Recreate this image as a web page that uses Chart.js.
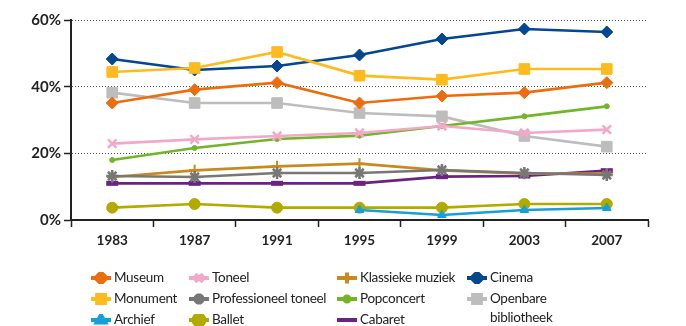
<!DOCTYPE html>
<html>
<head>
<meta charset="utf-8">
<script src="https://cdn.jsdelivr.net/npm/chart.js@4/dist/chart.umd.min.js"></script>
<style>
    body { margin: 0; background: #fff; font-family: Lato, sans-serif; }
    #wrap { position: relative; width: 686px; height: 326px; }
    #chart-box { position: absolute; left: 0; top: 0; width: 686px; height: 258px; }
    #legend { position: absolute; left: 0; top: 268px; width: 686px; height: 60px; }
    .legend-item { position: absolute; display: flex; align-items: flex-start; font-size: 13.5px; color: #222; line-height: 19px; letter-spacing: -0.3px; }
    .legend-item canvas { margin-top: 4px; margin-right: 3px; }
</style>
</head>
<body>
<div id="wrap">
    <div id="chart-box"><canvas id="chartCanvas"></canvas></div>
    <div id="legend"></div>
</div>
<script>
const years = ["1983", "1987", "1991", "1995", "1999", "2003", "2007"];
const yTicks = [0, 20, 40, 60];

const museum = [35.1, 39.1, 41.2, 35.1, 37.2, 38.2, 41.2];
const monument = [44.4, 45.6, 50.4, 43.3, 42.1, 45.3, 45.3];
const archief = [null, null, null, 3.0, 1.5, 3.0, 3.6];
const toneel = [22.9, 24.2, 25.2, 26.1, 28.2, 26.1, 27.1];
const profToneel = [13.2, 12.9, 14.1, 14.1, 15.0, 14.1, 13.5];
const ballet = [3.7, 4.8, 3.7, 3.7, 3.7, 4.8, 4.8];
const klassiek = [12.9, 14.9, 16.1, 16.9, 14.9, 13.9, 13.9];
const popconcert = [18.0, 21.6, 24.3, 25.3, 28.2, 31.1, 34.1];
const cabaret = [11.0, 11.0, 11.0, 11.0, 13.0, 13.2, 14.8];
const cinema = [48.3, 45.0, 46.2, 49.5, 54.3, 57.3, 56.4];
const bibliotheek = [38.2, 35.1, 35.1, 32.1, 31.1, 25.2, 22.0];

const seriesNames = ["Museum", "Monument", "Archief", "Toneel", "Professioneel toneel", "Ballet",
    "Klassieke muziek", "Popconcert", "Cabaret", "Cinema", "Openbare bibliotheek"];

// style per series: colour, point style, radius, point border width
const looks = [
    { data: museum, color: "#ec6d0d", style: "rectRot", r: 6, bw: 1 },
    { data: monument, color: "#fdbb1e", style: "rect", r: 7.5, bw: 1 },
    { data: archief, color: "#13a0dd", style: "triangle", r: 5, bw: 1 },
    { data: toneel, color: "#f3a8c8", style: "crossRot", r: 6, bw: 2.5 },
    { data: profToneel, color: "#777777", style: "star", r: 6, bw: 2.5 },
    { data: ballet, color: "#b3aa00", style: "circle", r: 5.5, bw: 1 },
    { data: klassiek, color: "#c88a1c", style: "cross", r: 5.5, bw: 2 },
    { data: popconcert, color: "#73b52a", style: "circle", r: 2.5, bw: 1 },
    { data: cabaret, color: "#6a2382", style: "line", r: 6, bw: 5 },
    { data: cinema, color: "#03478f", style: "rectRot", r: 6, bw: 1 },
    { data: bibliotheek, color: "#bdbdbd", style: "rect", r: 7.5, bw: 1 }
];

const datasets = looks.map((l, i) => ({
    label: seriesNames[i],
    data: l.data,
    borderColor: l.color,
    backgroundColor: l.color,
    borderWidth: 2.7,
    pointStyle: l.style,
    pointRadius: l.r,
    pointBorderWidth: l.bw,
    pointBackgroundColor: l.color,
    pointBorderColor: l.color,
    spanGaps: false,
    tension: 0
}));

const ctx = document.getElementById("chartCanvas").getContext("2d");

new Chart(ctx, {
    type: "line",
    data: { labels: years, datasets: datasets },
    options: {
        responsive: true,
        maintainAspectRatio: false,
        animation: false,
        layout: { padding: { top: 20, right: 38, left: 0, bottom: 0 } },
        plugins: { legend: { display: false }, tooltip: { enabled: false } },
        scales: {
            x: {
                offset: true,
                grid: { offset: true, drawOnChartArea: false, drawTicks: true, tickLength: 7, tickColor: "#222", tickWidth: 1.5 },
                border: { color: "#222", width: 2 },
                ticks: { color: "#222", padding: 6, font: { family: "Lato", weight: "bold", size: 13.5 } },
                afterFit: function (scale) { scale.height = 38; }
            },
            y: {
                min: 0,
                max: 60,
                afterBuildTicks: function (scale) { scale.ticks = yTicks.map(v => ({ value: v })); },
                grid: { color: "#555", lineWidth: 1, tickColor: "#222", tickLength: 7, tickWidth: 1.5, tickBorderDash: [] },
                border: { color: "#222", width: 2, dash: [1, 2] },
                ticks: {
                    color: "#222",
                    padding: 3,
                    font: { family: "Lato", weight: "bold", size: 15 },
                    callback: v => v + "%"
                },
                afterFit: function (scale) { scale.width = 71; }
            }
        }
    }
});

// HTML legend in four columns
const legend = document.getElementById("legend");
const columns = [
    { x: 91, items: [0, 1, 2] },
    { x: 189, items: [3, 4, 5] },
    { x: 337, items: [6, 7, 8] },
    { x: 467, items: [9, 10] }
];

columns.forEach(col => {
    col.items.forEach((idx, row) => {
        const l = looks[idx];
        const item = document.createElement("div");
        item.className = "legend-item";
        item.style.left = col.x + "px";
        item.style.top = (row * 21) + "px";
        const c = document.createElement("canvas");
        c.width = 20;
        c.height = 12;
        const g = c.getContext("2d");
        g.strokeStyle = l.color;
        g.fillStyle = l.color;
        g.lineWidth = 4;
        g.beginPath();
        g.moveTo(0, 6);
        g.lineTo(20, 6);
        g.stroke();
        if (Chart.helpers && Chart.helpers.drawPoint) {
            Chart.helpers.drawPoint(g, { pointStyle: l.style, radius: Math.min(l.r, 5.5), borderWidth: l.bw }, 10, 6);
        }
        item.appendChild(c);
        const label = document.createElement("span");
        label.innerHTML = idx === 10 ? "Openbare<br>bibliotheek" : seriesNames[idx];
        item.appendChild(label);
        legend.appendChild(item);
    });
});
</script>
</body>
</html>
